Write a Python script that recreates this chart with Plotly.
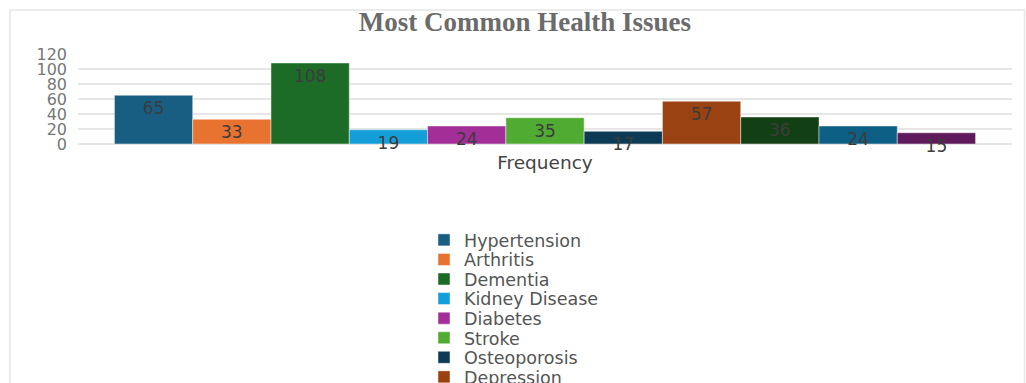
import plotly.graph_objects as go

# Survey results: how often each condition was reported
categories = ["Frequency"]
issues = [
    "Hypertension", "Arthritis", "Dementia", "Kidney Disease", "Diabetes",
    "Stroke", "Osteoporosis", "Depression", "Heart Disease", "Vision Loss",
    "Hearing Loss",
]
counts = [65, 33, 108, 19, 24, 35, 17, 57, 36, 24, 15]
colors = [
    "#175e82", "#e8722f", "#1c6b26", "#149fd8", "#a22e97", "#4fab32",
    "#0d3b55", "#9b4212", "#123f14", "#0d5f85", "#5e1a5a",
]
y_ticks = [0, 20, 40, 60, 80, 100, 120]

W, H = 1026, 383
ML, MR, MT, MB = 78, 14, 54, 239
plot_w = W - ML - MR
plot_h = H - MT - MB


def px_to_paper_x(px):
    return (px - ML) / plot_w


def px_to_paper_y(py):
    return (H - MB - py) / plot_h


fig = go.Figure()
legend_layouts = {}
item_step = 19.57
first_item_y = 240

for i, (name, val, col) in enumerate(zip(issues, counts, colors)):
    lg = "legend" if i == 0 else f"legend{i + 1}"
    # one single-entry legend per series so the rows can sit tightly stacked;
    # rows that would start past the bottom edge of the page are left out
    y_pos = 1 - (first_item_y + i * item_step) / H
    in_view = y_pos > 0
    fig.add_trace(go.Bar(
        name=name,
        x=categories,
        y=[val],
        text=[str(val)],
        textposition="inside",
        insidetextanchor="end",
        constraintext="none",
        cliponaxis=False,
        insidetextfont=dict(family="DejaVu Sans", size=17, color="#3c3c3c"),
        marker=dict(color=col, line=dict(color="rgba(255,255,255,0.45)", width=1)),
        legend=lg,
        showlegend=in_view,
        hoverinfo="name+y",
    ))
    if in_view:
        legend_layouts[lg] = dict(
            xref="container",
            yref="container",
            x=424 / W,
            y=y_pos,
            xanchor="left",
            yanchor="middle",
            orientation="v",
            bgcolor="rgba(0,0,0,0)",
            font=dict(family="DejaVu Sans", size=17.5, color="#555555"),
            itemclick=False,
            itemdoubleclick=False,
        )

fig.update_layout(
    width=W,
    height=H,
    margin=dict(l=ML, r=MR, t=MT, b=MB, autoexpand=False),
    paper_bgcolor="white",
    plot_bgcolor="white",
    barmode="group",
    bargap=0.078,
    bargroupgap=0,
    showlegend=True,
    title=dict(
        text="<b>Most Common Health Issues</b>",
        x=525 / W,
        xanchor="center",
        y=1 - 22 / H,
        yanchor="middle",
        font=dict(family="Liberation Serif", size=27, color="#6b6b6b"),
    ),
    xaxis=dict(
        type="category",
        showgrid=False,
        showline=False,
        zeroline=False,
        ticks="",
        ticklabelstandoff=5,
        tickfont=dict(family="DejaVu Sans", size=18.5, color="#444444"),
    ),
    yaxis=dict(
        range=[0, 120],
        tickmode="array",
        tickvals=y_ticks,
        ticktext=[str(v) for v in y_ticks],
        showgrid=True,
        gridcolor="#e6e6e6",
        gridwidth=1.5,
        zeroline=True,
        zerolinecolor="#e6e6e6",
        zerolinewidth=1.5,
        showline=False,
        ticks="",
        ticklabelstandoff=10,
        tickfont=dict(family="DejaVu Sans", size=16, color="#777777"),
    ),
    **legend_layouts,
)

# light frame around the chart card
fig.add_shape(
    type="rect",
    xref="paper", yref="paper",
    x0=px_to_paper_x(10), x1=px_to_paper_x(1024.5),
    y0=px_to_paper_y(395), y1=px_to_paper_y(10),
    line=dict(color="#e6e6e6", width=1.5),
    fillcolor="rgba(0,0,0,0)",
    layer="below",
)

fig.write_html("out.html")
